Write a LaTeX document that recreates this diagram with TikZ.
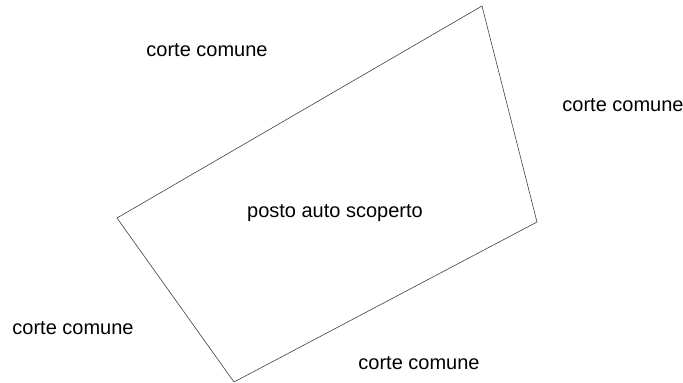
\documentclass[tikz,border=0pt]{standalone}
\usepackage{fontspec}
\setmainfont{Liberation Sans}
\begin{document}
\begin{tikzpicture}[x=1pt,y=-1pt]
\tikzset{ label/.style={inner sep=0pt, outer sep=0pt, anchor=base, font=\fontsize{20}{22}\selectfont}, }

\useasboundingbox (0,0) rectangle (683,383);

%\draw [lightgray, dashed](0,0) grid (683,383);

\coordinate (NE) at (482,6);
\coordinate (SE) at (537,222);
\coordinate (S)  at (234,382);
\coordinate (W)  at (117,218);

\draw [line width=0.6pt, darkgray] (NE) -- (SE) -- (S) -- (W) -- cycle;

\node [label] (posto) at (335,217) {posto auto scoperto};

\node [label] (cN) at (207,56)  {corte comune};
\node [label] (cE) at (623,111) {corte comune};
\node [label] (cW) at (73,334)  {corte comune};
\node [label] (cS) at (419,369) {corte comune};

\end{tikzpicture}
\end{document}
